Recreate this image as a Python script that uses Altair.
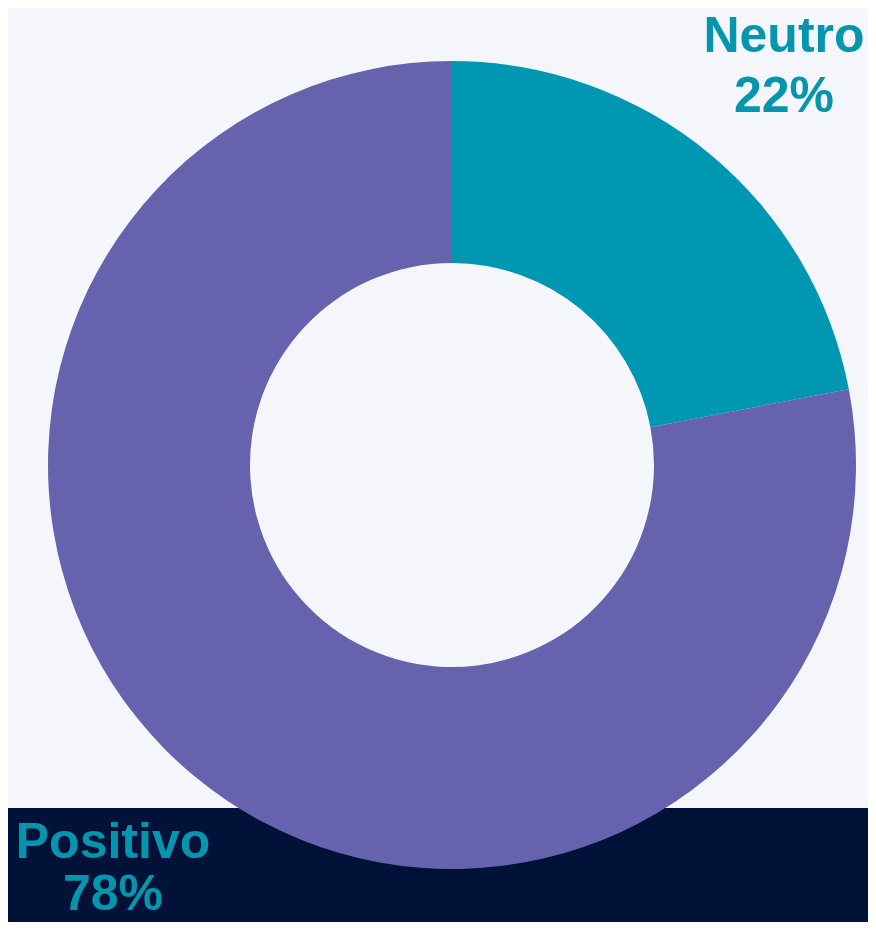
import altair as alt
import pandas as pd

categories = ["Neutro", "Positivo"]
values = [22, 78]
colors = ["#0097B2", "#6762AD"]

df = pd.DataFrame({"categoria": categories, "valor": values, "orden": [0, 1]})

W, H = 860, 914
CX, CY = 444, 457

band = alt.Chart(pd.DataFrame({"a": [0]})).mark_rect(color="#001238").encode(
    x=alt.value(-10), x2=alt.value(W + 10), y=alt.value(800), y2=alt.value(H + 10)
)

donut = alt.Chart(df).mark_arc(outerRadius=404, innerRadius=202).encode(
    theta=alt.Theta("valor:Q", stack=True),
    color=alt.Color("categoria:N", scale=alt.Scale(domain=categories, range=colors), legend=None),
    order=alt.Order("orden:Q"),
    x=alt.value(CX),
    y=alt.value(CY),
)

def label(cat, cx, y1, y2):
    base = alt.Chart(df).transform_filter(alt.datum.categoria == cat)
    t1 = base.mark_text(font="Liberation Sans", fontWeight="bold", fontSize=50,
                        color="#0596AE", align="center", baseline="alphabetic").encode(
        text="categoria:N", x=alt.value(cx), y=alt.value(y1))
    t2 = base.transform_calculate(pct="datum.valor + '%'").mark_text(
        font="Liberation Sans", fontWeight="bold", fontSize=50,
        color="#0596AE", align="center", baseline="alphabetic").encode(
        text="pct:N", x=alt.value(cx), y=alt.value(y2))
    return t1 + t2

chart = alt.layer(
    band, donut,
    label("Neutro", 776, 44, 104),
    label("Positivo", 105, 850, 902),
).properties(
    width=W, height=H, background="#F4F6FB", padding=0,
    autosize=alt.AutoSizeParams(type="none"),
).configure_view(stroke=None)

chart.save("out.html", embed_options={"renderer": "svg", "actions": False})
